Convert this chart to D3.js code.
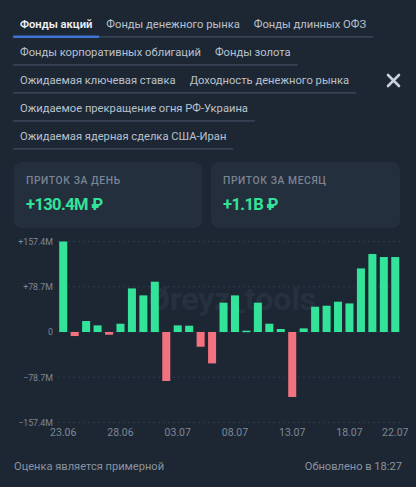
<!DOCTYPE html>
<html><head><meta charset="utf-8">
<script src="https://cdn.jsdelivr.net/npm/d3@7"></script>
<style>
html,body{margin:0;padding:0;background:#1d2734;}
svg{display:block;font-family:Roboto,"Noto Sans",sans-serif;}
</style></head>
<body><svg id="c" width="416" height="487"></svg>
<script>
const dates = ["23.06","24.06","25.06","26.06","27.06","28.06","29.06","30.06","01.07","02.07","03.07","04.07","05.07","06.07","07.07","08.07","09.07","10.07","11.07","12.07","13.07","14.07","15.07","16.07","17.07","18.07","19.07","20.07","21.07","22.07"];
const flows = [157.4,-7,19.1,11.5,-4.7,14.4,75.8,63.7,87.5,-85.2,11.5,10.9,-25.6,-54.6,51,63.7,2.3,51,14.4,5.2,-113,6.3,44,45.7,52.7,49.7,110.6,135.7,130.4,130.4];
const yTicks = [157.4,78.7,0,-78.7,-157.4];
const yTickLabels = ["+157.4M","+78.7M","0","\u221278.7M","\u2212157.4M"];
const xTickDates = ["23.06","28.06","03.07","08.07","13.07","18.07","22.07"];
const tabRows = [
  ["Фонды акций","Фонды денежного рынка","Фонды длинных ОФЗ"],
  ["Фонды корпоративных облигаций","Фонды золота"],
  ["Ожидаемая ключевая ставка","Доходность денежного рынка"],
  ["Ожидаемое прекращение огня РФ-Украина"],
  ["Ожидаемая ядерная сделка США-Иран"]
];
const cardLabels = ["ПРИТОК ЗА ДЕНЬ","ПРИТОК ЗА МЕСЯЦ"];
const cardValues = ["+130.4M \u20bd","+1.1B \u20bd"];
const footerLeft = "Оценка является примерной";
const footerRight = "Обновлено в 18:27";

const svg = d3.select("#c");
const GREEN = "#34e39a", RED = "#f2737f";

// tabs
const rowY = [28, 56, 84, 112, 140];
const lines = svg.append("g");
tabRows.forEach((row, ri) => {
  let x = 20;
  const g = svg.append("g");
  let endX = 0;
  row.forEach((t, ti) => {
    const active = ri === 0 && ti === 0;
    const txt = g.append("text").attr("x", x).attr("y", rowY[ri])
      .attr("font-size", 11.2).attr("font-weight", active ? 600 : 400)
      .attr("fill", active ? "#eef1f5" : "#b9c1cc").text(t);
    const w = txt.node().getComputedTextLength();
    if (active) {
      svg.append("rect").attr("x", 13).attr("y", rowY[ri] + 7.5).attr("width", w + 14).attr("height", 2.5).attr("fill", "#3f74d6").attr("rx", 1);
    }
    endX = x + w;
    x += w + 14;
  });
  lines.append("rect").attr("x", 13).attr("y", rowY[ri] + 8).attr("width", endX + 7 - 13).attr("height", 1.8).attr("fill", "#334152");
});
// close X
svg.append("path").attr("d", "M388,75 L399,86 M399,75 L388,86").attr("stroke", "#c9d1db").attr("stroke-width", 2.6).attr("stroke-linecap", "round");

// cards
[[14, 202], [211, 400]].forEach((c, i) => {
  svg.append("rect").attr("x", c[0]).attr("y", 162).attr("width", c[1] - c[0]).attr("height", 66).attr("rx", 8).attr("fill", "#242f3d");
  svg.append("text").attr("x", c[0] + 12).attr("y", 184).attr("font-size", 10.3).attr("font-weight", 500).attr("letter-spacing", 0.6).attr("fill", "#7a8492").text(cardLabels[i]);
  svg.append("text").attr("x", c[0] + 12).attr("y", 210).attr("font-size", 16.5).attr("font-weight", 700).attr("letter-spacing", -0.6).attr("fill", GREEN).text(cardValues[i]);
});

// chart
const x = d3.scaleBand().domain(dates).range([57.5, 401]).paddingInner(0.3).paddingOuter(0.15);
const y = d3.scaleLinear().domain([-157.4, 157.4]).range([422.5, 241.5]);

svg.append("text").attr("x", 232).attr("y", 310).attr("text-anchor", "middle").attr("font-size", 32).attr("font-weight", 700).attr("fill", "#263140").text("\u00d8reyz_tools");

const yAxis = svg.append("g").attr("transform", "translate(54,0)")
  .call(d3.axisLeft(y).tickValues(yTicks).tickSize(0).tickPadding(1).tickFormat((d, i) => yTickLabels[i]));
yAxis.select(".domain").remove();
yAxis.selectAll("text").attr("fill", "#7d8794").attr("font-size", 8.8).attr("font-family", "Roboto,sans-serif");
svg.append("g").selectAll("line").data(yTicks).join("line")
  .attr("x1", 58).attr("x2", 402).attr("y1", d => y(d)).attr("y2", d => y(d))
  .attr("stroke", "#2f3a49").attr("stroke-width", 1).attr("stroke-dasharray", "2,3");

svg.append("g").selectAll("rect").data(flows).join("rect")
  .attr("x", (d, i) => x(dates[i])).attr("width", x.bandwidth())
  .attr("y", d => y(Math.max(0, d))).attr("height", d => Math.max(1.5, Math.abs(y(d) - y(0))))
  .attr("fill", d => d >= 0 ? GREEN : RED);

const xAxis = svg.append("g").attr("transform", "translate(0,428)")
  .call(d3.axisBottom(x).tickValues(xTickDates).tickSize(0).tickPadding(1));
xAxis.select(".domain").remove();
xAxis.selectAll("text").attr("fill", "#7d8794").attr("font-size", 10.5).attr("font-family", "Roboto,sans-serif");

// footer
svg.append("text").attr("x", 14).attr("y", 470).attr("font-size", 11.1).attr("fill", "#8a939f").text(footerLeft);
svg.append("text").attr("x", 402).attr("y", 470).attr("text-anchor", "end").attr("font-size", 11.1).attr("fill", "#8a939f").text(footerRight);
</script></body></html>
